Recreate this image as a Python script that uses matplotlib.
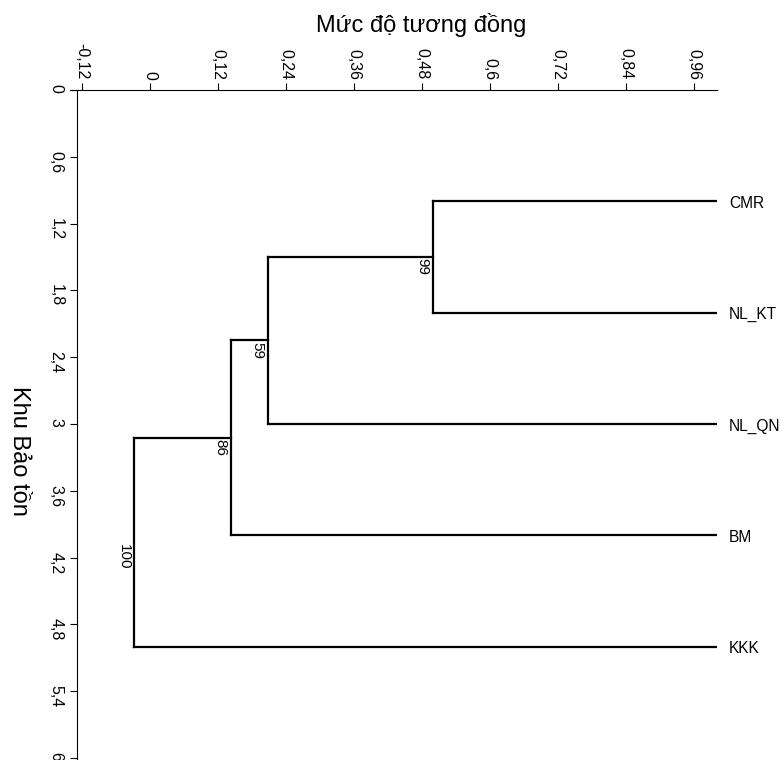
import matplotlib
matplotlib.use('Agg')
import matplotlib.pyplot as plt

plt.rcParams['font.family'] = ['Liberation Sans', 'DejaVu Sans']

# DATA
leaves = ['CMR', 'NL_KT', 'NL_QN', 'BM', 'KKK']
leaf_pos = [1, 2, 3, 4, 5]
leaf_sim = 1.0

# merges: clusters 0-4 are leaves, new clusters get ids 5, 6, 7, 8
merge_a = [0, 5, 6, 7]
merge_b = [1, 2, 3, 4]
merge_sim = [0.499, 0.208, 0.143, -0.027]
bootstrap = [99, 59, 86, 100]

xticks = [-0.12, 0, 0.12, 0.24, 0.36, 0.48, 0.6, 0.72, 0.84, 0.96]
xtick_labels = ['-0,12', '0', '0,12', '0,24', '0,36', '0,48', '0,6', '0,72', '0,84', '0,96']
yticks = [0, 0.6, 1.2, 1.8, 2.4, 3, 3.6, 4.2, 4.8, 5.4, 6]
ytick_labels = ['0', '0,6', '1,2', '1,8', '2,4', '3', '3,6', '4,2', '4,8', '5,4', '6']

# PLOTTING
fig = plt.figure(figsize=(7.83, 7.6), dpi=100)
ax = fig.add_axes([0.0894, 0.0, 0.8259, 0.8816])

lw = 1.6
cx = [leaf_sim] * len(leaves)
cy = list(leaf_pos)
for a, b, s, bs in zip(merge_a, merge_b, merge_sim, bootstrap):
    ax.plot([cx[a], s], [cy[a], cy[a]], color='black', lw=lw, solid_capstyle='projecting')
    ax.plot([cx[b], s], [cy[b], cy[b]], color='black', lw=lw, solid_capstyle='projecting')
    ax.plot([s, s], [cy[a], cy[b]], color='black', lw=lw, solid_capstyle='projecting')
    ny = (cy[a] + cy[b]) / 2
    ax.annotate(str(bs), xy=(s, ny), xytext=(-2.5, -1), textcoords='offset points',
                rotation=-90, ha='right', va='top', fontsize=11)
    cx.append(s)
    cy.append(ny)

for name, y in zip(leaves, leaf_pos):
    ax.annotate(name, xy=(leaf_sim, y), xytext=(9, -1.5), textcoords='offset points',
                ha='left', va='center', fontsize=11.2, annotation_clip=False)

ax.set_xlim(-0.1406, 1.0)
ax.set_ylim(6.018, 0)
ax.set_xticks(xticks)
ax.set_xticklabels(xtick_labels)
ax.set_yticks(yticks)
ax.set_yticklabels(ytick_labels)
ax.xaxis.set_ticks_position('top')
ax.xaxis.set_label_position('top')
ax.tick_params(axis='x', length=5, width=0.8, pad=2.4, labelsize=11.5, labelrotation=-90)
ax.tick_params(axis='y', length=5, width=0.8, pad=4.8, labelsize=11.5, labelrotation=-90)
for t in ax.get_yticklabels():
    t.set_verticalalignment('center')

ax.spines['right'].set_visible(False)
ax.spines['bottom'].set_visible(False)
ax.spines['left'].set_position(('data', -0.128))
ax.spines['left'].set_linewidth(0.8)
ax.spines['top'].set_linewidth(0.8)
ax.patch.set_visible(False)

fig.text(421 / 783, 1 - 25 / 760, 'Mức độ tương đồng', ha='center', va='center', fontsize=17)
fig.text(19 / 783, 1 - 451 / 760, 'Khu Bảo tồn', ha='center', va='center', rotation=-90, fontsize=17)

fig.savefig('out.png', dpi=100)
